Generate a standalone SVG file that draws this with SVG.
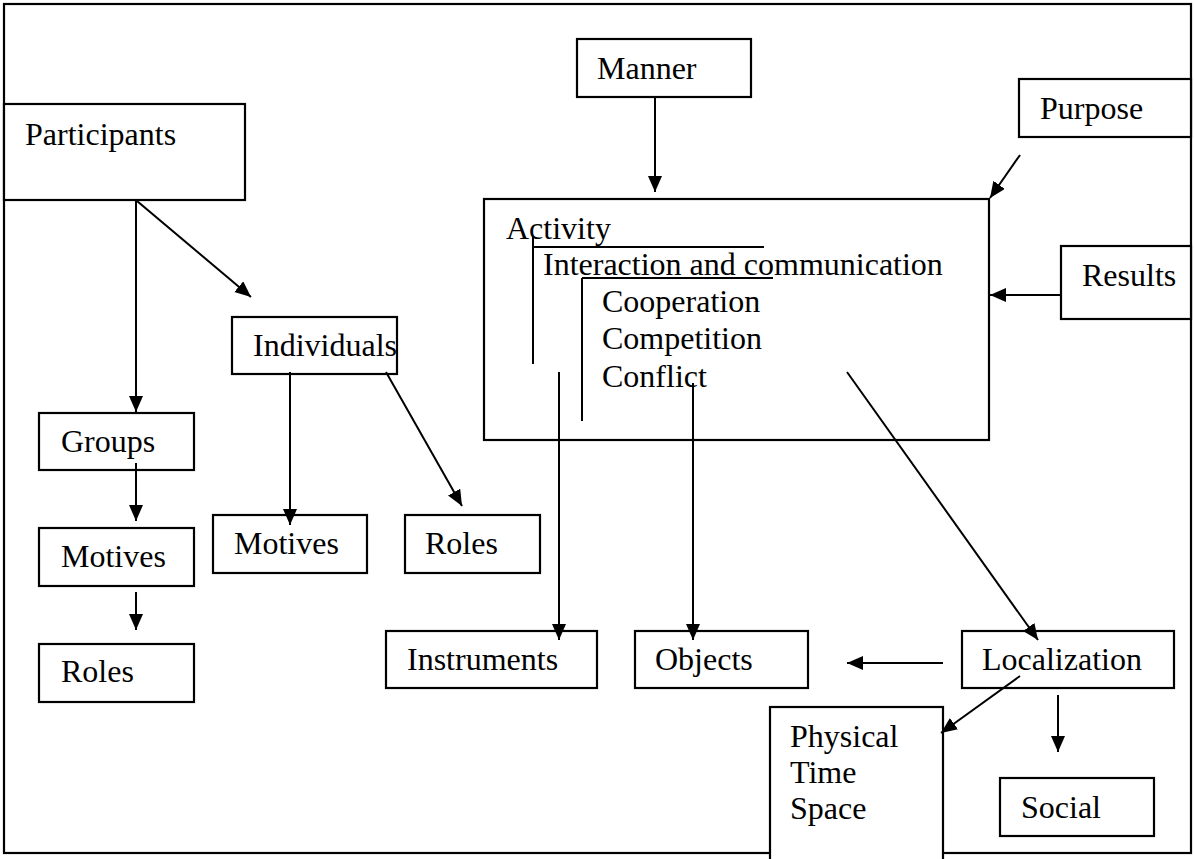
<svg xmlns="http://www.w3.org/2000/svg" width="1194" height="859" viewBox="0 0 1194 859">
  <style>
    .box { fill: #ffffff; stroke: #000000; stroke-width: 2.2; }
    .frame { fill: #ffffff; stroke: #000000; stroke-width: 2.2; }
    .lbl { font-family: "Liberation Serif", "Times New Roman", serif; font-size: 32px; fill: #000000; }
    .ln { stroke: #000000; stroke-width: 2; fill: none; }
    .arr { stroke: #000000; stroke-width: 2; fill: none; marker-end: url(#ah); }
  </style>
  <defs>
    <marker id="ah" markerUnits="userSpaceOnUse" markerWidth="18" markerHeight="16" refX="16" refY="7" orient="auto">
      <path d="M0,0 L16,7 L0,14 z" fill="#000000"/>
    </marker>
  </defs>

  <rect class="frame" x="4" y="4" width="1187" height="849"/>

  <g id="participants">
    <rect class="box" x="4" y="104" width="241" height="96"/>
    <text class="lbl" x="25" y="145">Participants</text>
  </g>
  <g id="manner">
    <rect class="box" x="577" y="39" width="174" height="58"/>
    <text class="lbl" x="597" y="79">Manner</text>
  </g>
  <g id="purpose">
    <rect class="box" x="1019" y="79" width="172" height="58"/>
    <text class="lbl" x="1040" y="119">Purpose</text>
  </g>
  <g id="activity">
    <rect class="box" x="484" y="199" width="505" height="241"/>
    <text class="lbl" x="506" y="239">Activity</text>
    <text class="lbl" x="543" y="275">Interaction and communication</text>
    <text class="lbl" x="602" y="312">Cooperation</text>
    <text class="lbl" x="602" y="349">Competition</text>
    <text class="lbl" x="602" y="387">Conflict</text>
    <path class="ln" d="M533,237 V364 M533,247 H764"/>
    <path class="ln" d="M582,278 V421 M582,278 H773"/>
  </g>
  <g id="results">
    <rect class="box" x="1061" y="246" width="130" height="73"/>
    <text class="lbl" x="1082" y="286">Results</text>
  </g>
  <g id="individuals">
    <rect class="box" x="232" y="317" width="165" height="57"/>
    <text class="lbl" x="253" y="356">Individuals</text>
  </g>
  <g id="groups">
    <rect class="box" x="39" y="413" width="155" height="57"/>
    <text class="lbl" x="61" y="452">Groups</text>
  </g>
  <g id="motives-groups">
    <rect class="box" x="39" y="528" width="155" height="58"/>
    <text class="lbl" x="61" y="567">Motives</text>
  </g>
  <g id="roles-groups">
    <rect class="box" x="39" y="644" width="155" height="58"/>
    <text class="lbl" x="61" y="682">Roles</text>
  </g>
  <g id="motives-individuals">
    <rect class="box" x="213" y="515" width="154" height="58"/>
    <text class="lbl" x="234" y="554">Motives</text>
  </g>
  <g id="roles-individuals">
    <rect class="box" x="405" y="515" width="135" height="58"/>
    <text class="lbl" x="425" y="554">Roles</text>
  </g>
  <g id="instruments">
    <rect class="box" x="386" y="631" width="211" height="57"/>
    <text class="lbl" x="407" y="670">Instruments</text>
  </g>
  <g id="objects">
    <rect class="box" x="635" y="631" width="173" height="57"/>
    <text class="lbl" x="655" y="670">Objects</text>
  </g>
  <g id="localization">
    <rect class="box" x="962" y="631" width="212" height="57"/>
    <text class="lbl" x="982" y="670">Localization</text>
  </g>
  <g id="physical">
    <rect class="box" x="770" y="707" width="173" height="170"/>
    <text class="lbl" x="790" y="747">Physical</text>
    <text class="lbl" x="790" y="783">Time</text>
    <text class="lbl" x="790" y="819">Space</text>
  </g>
  <g id="social">
    <rect class="box" x="1000" y="778" width="154" height="58"/>
    <text class="lbl" x="1021" y="818">Social</text>
  </g>

  <g id="connectors">
    <line class="arr" x1="136" y1="200" x2="136" y2="412"/>
    <line class="arr" x1="137" y1="201" x2="251" y2="297"/>
    <line class="arr" x1="136" y1="463" x2="136" y2="521"/>
    <line class="arr" x1="136" y1="592" x2="136" y2="630"/>
    <line class="arr" x1="290" y1="372" x2="290" y2="525"/>
    <line class="arr" x1="386" y1="372" x2="462" y2="506"/>
    <line class="arr" x1="655" y1="97" x2="655" y2="192"/>
    <line class="arr" x1="1020" y1="155" x2="990" y2="198"/>
    <line class="arr" x1="1061" y1="295" x2="990" y2="295"/>
    <line class="arr" x1="559" y1="372" x2="559" y2="640"/>
    <line class="arr" x1="693" y1="383" x2="693" y2="640"/>
    <line class="arr" x1="847" y1="372" x2="1038" y2="640"/>
    <line class="arr" x1="943" y1="663" x2="847" y2="663"/>
    <line class="arr" x1="1020" y1="676" x2="941" y2="733"/>
    <line class="arr" x1="1058" y1="695" x2="1058" y2="752"/>
  </g>
</svg>
